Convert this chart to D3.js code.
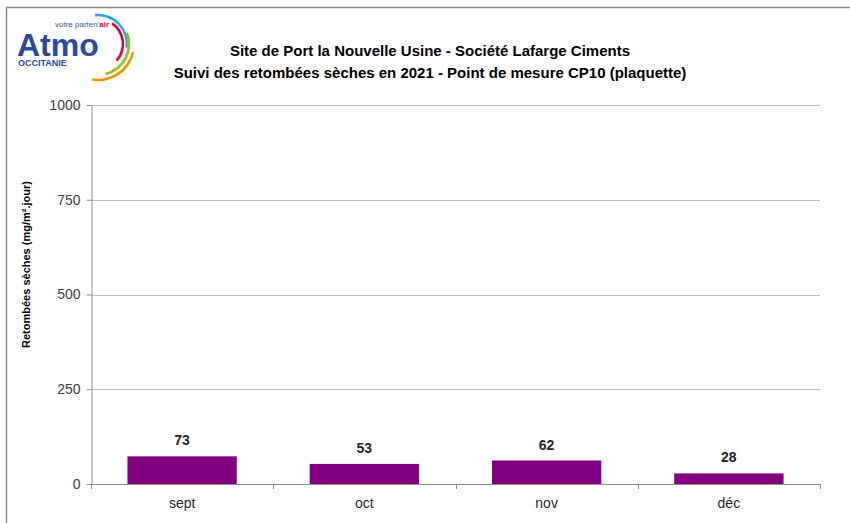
<!DOCTYPE html>
<html>
<head>
<meta charset="utf-8">
<script src="https://cdn.jsdelivr.net/npm/d3@7"></script>
<style>
  body { margin: 0; background: #fff; }
  svg { display: block; font-family: "Liberation Sans", Arial, sans-serif; }
</style>
</head>
<body>
<svg id="chart"></svg>
<script>
// données
const months = ["sept", "oct", "nov", "déc"];
const values = [73, 53, 62, 28];
const yTicks = [0, 250, 500, 750, 1000];
const titleLines = [
  "Site de Port la Nouvelle Usine - Société Lafarge Ciments",
  "Suivi des retombées sèches en 2021 - Point de mesure CP10 (plaquette)"
];
const yLabel = "Retombées sèches (mg/m².jour)";

const width = 850, height = 523;
const margin = { top: 105, right: 30, bottom: 39, left: 91 };

const svg = d3.select("#chart")
  .attr("width", width)
  .attr("height", height);

// cadre (seuls haut et gauche visibles)
svg.append("path")
  .attr("d", `M6.5,${height} V7.5 H${width}`)
  .attr("fill", "none")
  .attr("stroke", "#8c8c8c")
  .attr("stroke-width", 1.5);

// logo
const logo = svg.append("g");
logo.append("text")
  .attr("x", 17).attr("y", 56)
  .attr("font-size", 32).attr("font-weight", "bold")
  .attr("fill", "#2c4a9a")
  .text("Atmo");
logo.append("text")
  .attr("x", 55).attr("y", 27)
  .attr("font-size", 8)
  .attr("fill", "#3a5aa8")
  .html('votre parten\'<tspan font-weight="bold" fill="#e4003a">air</tspan>');
logo.append("text")
  .attr("x", 18).attr("y", 66)
  .attr("font-size", 9).attr("font-weight", "bold")
  .attr("fill", "#2c4a9a")
  .text("OCCITANIE");
const arcs = [
  { r: 29, a0: -0.1, a1: 1.7, c: "#29abe2" },
  { r: 25, a0: 0.6, a1: 2.3, c: "#e4003a" },
  { r: 31, a0: 1.2, a1: 2.9, c: "#95c11f" },
  { r: 36, a0: 1.8, a1: 3.3, c: "#f39200" }
];
const arcGen = d3.arc();
arcs.forEach(a => {
  logo.append("path")
    .attr("transform", "translate(98,44)")
    .attr("d", arcGen({ innerRadius: a.r - 1.3, outerRadius: a.r + 1.3, startAngle: a.a0, endAngle: a.a1 }))
    .attr("fill", a.c);
});

// titre
svg.append("g").selectAll("text")
  .data(titleLines)
  .join("text")
  .attr("x", 430)
  .attr("y", (d, i) => 56 + i * 22)
  .attr("text-anchor", "middle")
  .attr("font-size", 15)
  .attr("font-weight", "bold")
  .attr("fill", "#000")
  .text(d => d);

const x = d3.scaleBand()
  .domain(months)
  .range([margin.left, width - margin.right])
  .paddingInner(0.4)
  .paddingOuter(0.2);

const y = d3.scaleLinear()
  .domain([0, 1000])
  .range([height - margin.bottom, margin.top]);

// grille
svg.append("g").selectAll("line")
  .data(yTicks.filter(d => d > 0))
  .join("line")
  .attr("x1", margin.left).attr("x2", width - margin.right)
  .attr("y1", d => Math.round(y(d)) + 0.5).attr("y2", d => Math.round(y(d)) + 0.5)
  .attr("stroke", "#bfbfbf");

// axe y
const yAxis = svg.append("g")
  .attr("transform", `translate(${margin.left + 0.5},0)`)
  .call(d3.axisLeft(y).tickValues(yTicks).tickFormat(d3.format("d"))
    .tickSize(5).tickPadding(6).tickSizeOuter(0));
yAxis.select(".domain").attr("stroke", "#8c8c8c");
yAxis.selectAll(".tick line").attr("stroke", "#8c8c8c");
yAxis.selectAll(".tick text")
  .attr("font-size", 14)
  .attr("font-family", "Liberation Sans, Arial, sans-serif")
  .attr("fill", "#404040");

// barres
svg.append("g").selectAll("rect")
  .data(values)
  .join("rect")
  .attr("x", (d, i) => x(months[i]))
  .attr("y", d => y(d))
  .attr("width", x.bandwidth())
  .attr("height", d => y(0) - y(d))
  .attr("fill", "#800080");

// étiquettes de valeur
svg.append("g").selectAll("text")
  .data(values)
  .join("text")
  .attr("x", (d, i) => x(months[i]) + x.bandwidth() / 2)
  .attr("y", d => y(d) - 11)
  .attr("text-anchor", "middle")
  .attr("font-size", 14)
  .attr("font-weight", "bold")
  .attr("fill", "#262626")
  .text(d => d);

// axe x
const step = x.step();
const xEdges = d3.range(months.length + 1).map(i => margin.left + i * step);
const xAxis = svg.append("g");
xAxis.append("line")
  .attr("x1", margin.left).attr("x2", width - margin.right)
  .attr("y1", y(0) + 0.5).attr("y2", y(0) + 0.5)
  .attr("stroke", "#8c8c8c");
xAxis.selectAll(".edge")
  .data(xEdges)
  .join("line")
  .attr("class", "edge")
  .attr("x1", d => Math.round(d) + 0.5).attr("x2", d => Math.round(d) + 0.5)
  .attr("y1", y(0)).attr("y2", y(0) + 5)
  .attr("stroke", "#8c8c8c");
xAxis.selectAll(".lbl")
  .data(months)
  .join("text")
  .attr("class", "lbl")
  .attr("x", d => x(d) + x.bandwidth() / 2)
  .attr("y", y(0) + 24)
  .attr("text-anchor", "middle")
  .attr("font-size", 14)
  .attr("fill", "#262626")
  .text(d => d);

// titre axe y
svg.append("text")
  .attr("transform", `translate(30,${(margin.top + y(0)) / 2 - 30}) rotate(-90)`)
  .attr("text-anchor", "middle")
  .attr("font-size", 11)
  .attr("font-weight", "bold")
  .attr("fill", "#000")
  .text(yLabel);
</script>
</body>
</html>
